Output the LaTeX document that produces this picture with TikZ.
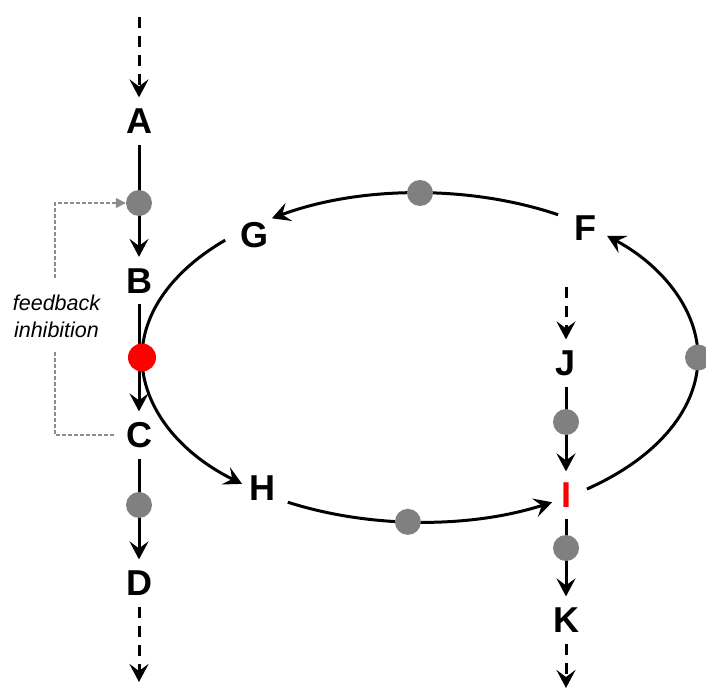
\documentclass[tikz,border=0pt]{standalone}
\usepackage{fontspec}
\setmainfont{Liberation Sans}
\usetikzlibrary{arrows.meta,calc}
\definecolor{dotgray}{HTML}{808080}
\definecolor{inhred}{HTML}{FF0000}
\definecolor{fbgray}{HTML}{8C8C8C}
\tikzset{
  metab/.style={font=\fontsize{36}{36}\selectfont\bfseries, text height=25.8pt,
    text depth=0pt, inner xsep=12pt, inner ysep=10.5pt},
  tipv/.style={-{Stealth[length=18pt,width=19pt,inset=7pt]}},
  flow/.style={line width=3pt, tipv},
  flowdash/.style={flow, dash pattern=on 11pt off 8pt},
  cyc/.style={line width=3pt},
  enz/.style={circle, minimum size=26pt, inner sep=0pt},
  fbline/.style={draw=fbgray, line width=1.2pt, dash pattern=on 4pt off 2pt},
  ell/.style={x radius=278pt, y radius=164.5pt}
}
\begin{document}
\begin{tikzpicture}[x=1pt,y=1pt]
\useasboundingbox (0,0) rectangle (706,689);

% metabolites, left pathway
\node[metab] (A) at (139,568) {A};
\node[metab] (B) at (139,408.5) {B};
\node[metab] (C) at (139,254) {C};
\node[metab] (D) at (139,106) {D};
% metabolites on the cycle and the right pathway
\node[metab] (G) at (254,454) {G};
\node[metab] (F) at (585,461) {F};
\node[metab] (H) at (262,201.5) {H};
\node[metab] (J) at (566,326) {J};
\node[metab,text=inhred] (I) at (566,194) {I};
\node[metab] (K) at (566,69) {K};

% cycle geometry
\coordinate (ctr) at (420,331.5);
\coordinate (pH) at ($(ctr)+(241.6:278pt and 164.5pt)$);
\coordinate (pI) at ($(ctr)+(306.9:278pt and 164.5pt)$);
\coordinate (pF) at ($(ctr)+(60.2:278pt and 164.5pt)$);
\coordinate (pG) at ($(ctr)+(134.5:278pt and 164.5pt)$);

% enzyme positions
\node[enz] (e1) at (139,486) {};
\node[enz,minimum size=28pt] (eR) at (142,331.5) {};
\node[enz] (e2) at (139,184) {};
\node[enz] (e3) at (566,267) {};
\node[enz] (e4) at (566,141) {};
\node[enz] (eT) at ($(ctr)+(90:278pt and 164.5pt)$) {};
\node[enz] (eB) at ($(ctr)+(267.5:278pt and 164.5pt)$) {};
\node[enz] (eS) at ($(ctr)+(0:278pt and 164.5pt)$) {};

% loose ends of the pathways
\coordinate (inA) at (139,672);
\coordinate (outD) at (139,7);
\coordinate (inJ) at (566,402);
\coordinate (outK) at (566,1);

% left pathway
\draw[flowdash] (inA) -- (A);
\draw[flow] (A) -- (B);
\draw[flow] (B) -- (C);
\draw[flow] (C) -- (D);
\draw[flowdash] (D) -- (outD);

% right pathway
\draw[flowdash] (inJ) -- (J);
\draw[flow] (J) -- (I);
\draw[flow] (I) -- (K);
\draw[flowdash] (K) -- (outK);

% the cycle
\draw[cyc,tipv] (eR.center) arc[start angle=180, end angle=230.2, ell];
\draw[cyc,tipv] (pH) arc[start angle=241.6, end angle=298.4, ell];
\draw[cyc,tipv] (pI) arc[start angle=306.9, end angle=407.7, ell];
\draw[cyc,tipv] (pF) arc[start angle=60.2, end angle=122.2, ell];
\draw[cyc] (pG) arc[start angle=134.5, end angle=180, ell];

% feedback inhibition
\node[align=center, font=\fontsize{21.5}{27}\selectfont\itshape] (fbt) at (56.5,373)
  {feedback\\inhibition};
\coordinate (fbbot) at (55,339);
\coordinate (fbtop) at (55,411);
\draw[fbline] (C.west) -| (fbbot);
\draw[fbline,-{Triangle[length=10pt,width=10pt]}] (fbtop) |- (e1);

% enzymes
\foreach \e in {e1,e2,e3,e4,eT,eB,eS}
  \fill[dotgray] (\e) circle[radius=13pt];
\fill[inhred] (eR) circle[radius=14pt];
\end{tikzpicture}
\end{document}
